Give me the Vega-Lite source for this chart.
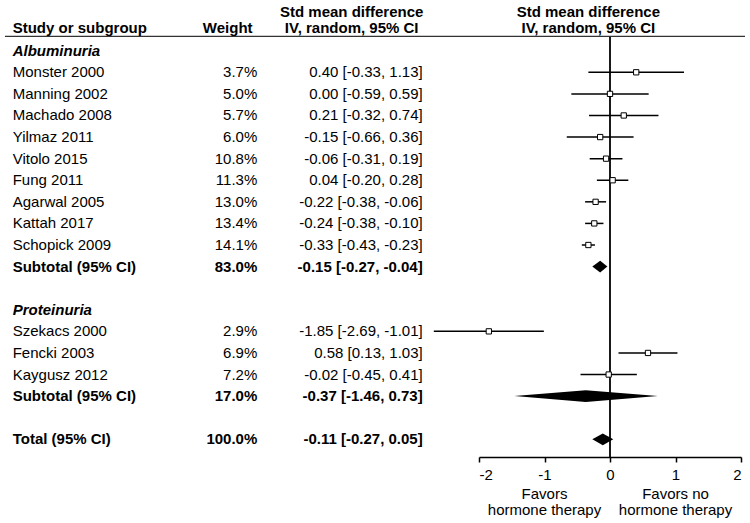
{
  "$schema": "https://vega.github.io/schema/vega-lite/v6.json",
  "autosize": {"type": "none"},
  "width": 262,
  "height": 420,
  "padding": {"left": 479, "right": 9, "top": 37, "bottom": 66},
  "config": {
    "font": "Liberation Sans",
    "view": {"stroke": null},
    "text": {"fontSize": 15, "color": "black", "baseline": "middle"}
  },
  "data": {
    "values": [
      {"row": 0, "type": "group", "study": "Albuminuria"},
      {"row": 1, "type": "study", "study": "Monster 2000", "weight": "3.7%", "ci": "0.40 [-0.33, 1.13]", "est": 0.40, "lo": -0.33, "hi": 1.13},
      {"row": 2, "type": "study", "study": "Manning 2002", "weight": "5.0%", "ci": "0.00 [-0.59, 0.59]", "est": 0.00, "lo": -0.59, "hi": 0.59},
      {"row": 3, "type": "study", "study": "Machado 2008", "weight": "5.7%", "ci": "0.21 [-0.32, 0.74]", "est": 0.21, "lo": -0.32, "hi": 0.74},
      {"row": 4, "type": "study", "study": "Yilmaz 2011", "weight": "6.0%", "ci": "-0.15 [-0.66, 0.36]", "est": -0.15, "lo": -0.66, "hi": 0.36},
      {"row": 5, "type": "study", "study": "Vitolo 2015", "weight": "10.8%", "ci": "-0.06 [-0.31, 0.19]", "est": -0.06, "lo": -0.31, "hi": 0.19},
      {"row": 6, "type": "study", "study": "Fung 2011", "weight": "11.3%", "ci": "0.04 [-0.20, 0.28]", "est": 0.04, "lo": -0.20, "hi": 0.28},
      {"row": 7, "type": "study", "study": "Agarwal 2005", "weight": "13.0%", "ci": "-0.22 [-0.38, -0.06]", "est": -0.22, "lo": -0.38, "hi": -0.06},
      {"row": 8, "type": "study", "study": "Kattah 2017", "weight": "13.4%", "ci": "-0.24 [-0.38, -0.10]", "est": -0.24, "lo": -0.38, "hi": -0.10},
      {"row": 9, "type": "study", "study": "Schopick 2009", "weight": "14.1%", "ci": "-0.33 [-0.43, -0.23]", "est": -0.33, "lo": -0.43, "hi": -0.23},
      {"row": 10, "type": "subtotal", "study": "Subtotal (95% CI)", "weight": "83.0%", "ci": "-0.15 [-0.27, -0.04]", "est": -0.15, "lo": -0.27, "hi": -0.04},
      {"row": 12, "type": "group", "study": "Proteinuria"},
      {"row": 13, "type": "study", "study": "Szekacs 2000", "weight": "2.9%", "ci": "-1.85 [-2.69, -1.01]", "est": -1.85, "lo": -2.69, "hi": -1.01},
      {"row": 14, "type": "study", "study": "Fencki 2003", "weight": "6.9%", "ci": "0.58 [0.13, 1.03]", "est": 0.58, "lo": 0.13, "hi": 1.03},
      {"row": 15, "type": "study", "study": "Kaygusz 2012", "weight": "7.2%", "ci": "-0.02 [-0.45, 0.41]", "est": -0.02, "lo": -0.45, "hi": 0.41},
      {"row": 16, "type": "subtotal", "study": "Subtotal (95% CI)", "weight": "17.0%", "ci": "-0.37 [-1.46, 0.73]", "est": -0.37, "lo": -1.46, "hi": 0.73},
      {"row": 18, "type": "subtotal", "study": "Total (95% CI)", "weight": "100.0%", "ci": "-0.11 [-0.27, 0.05]", "est": -0.11, "lo": -0.27, "hi": 0.05}
    ]
  },
  "layer": [
    {
      "transform": [{"filter": "datum.type == 'study'"}],
      "mark": {"type": "rule", "color": "black", "strokeWidth": 1.5},
      "encoding": {
        "x": {"field": "lo", "type": "quantitative", "scale": {"domain": [-2, 2], "nice": false, "zero": false},
          "axis": {"values": [-2, -1, 0, 1, 2], "labelExpr": "'' + datum.value", "title": null, "grid": false, "domainColor": "black", "domainWidth": 1.5, "tickColor": "black", "tickWidth": 1.5, "tickSize": 5, "labelFontSize": 15, "labelColor": "black", "labelPadding": 5, "labelFont": "Liberation Sans"}},
        "x2": {"field": "hi"},
        "y": {"field": "row", "type": "quantitative", "scale": {"domain": [-0.635, 18.82], "reverse": true, "nice": false, "zero": false}, "axis": null}
      }
    },
    {
      "mark": {"type": "rule", "color": "black", "strokeWidth": 1.8},
      "data": {"values": [{}]},
      "encoding": {
        "x": {"datum": 0, "type": "quantitative"}
      }
    },
    {
      "mark": {"type": "rule", "color": "#333333", "strokeWidth": 1.3},
      "data": {"values": [{}]},
      "encoding": {
        "x": {"datum": -9.237, "type": "quantitative"},
        "x2": {"datum": 2.061},
        "y": {"datum": -0.66, "type": "quantitative"}
      }
    },
    {
      "transform": [{"filter": "datum.type == 'study'"}],
      "mark": {"type": "point", "shape": "square", "filled": true, "fill": "white", "stroke": "black", "strokeWidth": 1, "opacity": 1, "size": 28},
      "encoding": {
        "x": {"field": "est", "type": "quantitative"},
        "y": {"field": "row", "type": "quantitative"}
      }
    },
    {
      "transform": [
        {"filter": "datum.type == 'subtotal'"},
        {"fold": ["lo", "est", "hi"], "as": ["k", "xv"]},
        {"calculate": "datum.k == 'est' ? datum.row - 0.27 : datum.row", "as": "ytop"},
        {"calculate": "datum.k == 'est' ? datum.row + 0.27 : datum.row", "as": "ybot"}
      ],
      "mark": {"type": "area", "orient": "vertical", "color": "black", "opacity": 1},
      "encoding": {
        "x": {"field": "xv", "type": "quantitative"},
        "y": {"field": "ytop", "type": "quantitative"},
        "y2": {"field": "ybot"},
        "detail": {"field": "row", "type": "nominal"}
      }
    },
    {
      "transform": [{"filter": "datum.type == 'study'"}],
      "mark": {"type": "text", "align": "left"},
      "encoding": {"x": {"datum": -9.119, "type": "quantitative"}, "y": {"field": "row", "type": "quantitative"}, "text": {"field": "study"}}
    },
    {
      "transform": [{"filter": "datum.type == 'study'"}],
      "mark": {"type": "text", "align": "right"},
      "encoding": {"x": {"datum": -5.385, "type": "quantitative"}, "y": {"field": "row", "type": "quantitative"}, "text": {"field": "weight"}}
    },
    {
      "transform": [{"filter": "datum.type == 'study'"}],
      "mark": {"type": "text", "align": "right"},
      "encoding": {"x": {"datum": -2.86, "type": "quantitative"}, "y": {"field": "row", "type": "quantitative"}, "text": {"field": "ci"}}
    },
    {
      "transform": [{"filter": "datum.type == 'subtotal'"}],
      "mark": {"type": "text", "align": "left", "fontWeight": "bold"},
      "encoding": {"x": {"datum": -9.119, "type": "quantitative"}, "y": {"field": "row", "type": "quantitative"}, "text": {"field": "study"}}
    },
    {
      "transform": [{"filter": "datum.type == 'subtotal'"}],
      "mark": {"type": "text", "align": "right", "fontWeight": "bold"},
      "encoding": {"x": {"datum": -5.385, "type": "quantitative"}, "y": {"field": "row", "type": "quantitative"}, "text": {"field": "weight"}}
    },
    {
      "transform": [{"filter": "datum.type == 'subtotal'"}],
      "mark": {"type": "text", "align": "right", "fontWeight": "bold"},
      "encoding": {"x": {"datum": -2.86, "type": "quantitative"}, "y": {"field": "row", "type": "quantitative"}, "text": {"field": "ci"}}
    },
    {
      "transform": [{"filter": "datum.type == 'group'"}],
      "mark": {"type": "text", "align": "left", "fontWeight": "bold", "fontStyle": "italic"},
      "encoding": {"x": {"datum": -9.119, "type": "quantitative"}, "y": {"field": "row", "type": "quantitative"}, "text": {"field": "study"}}
    },
    {
      "data": {"values": [{}]},
      "mark": {"type": "text", "align": "left", "fontWeight": "bold"},
      "encoding": {"x": {"datum": -9.119, "type": "quantitative"}, "y": {"datum": -1.05, "type": "quantitative"}, "text": {"value": "Study or subgroup"}}
    },
    {
      "data": {"values": [{}]},
      "mark": {"type": "text", "align": "right", "fontWeight": "bold"},
      "encoding": {"x": {"datum": -5.457, "type": "quantitative"}, "y": {"datum": -1.05, "type": "quantitative"}, "text": {"value": "Weight"}}
    },
    {
      "data": {"values": [{}]},
      "mark": {"type": "text", "align": "center", "fontWeight": "bold"},
      "encoding": {"x": {"datum": -3.944, "type": "quantitative"}, "y": {"datum": -1.77, "type": "quantitative"}, "text": {"value": "Std mean difference"}}
    },
    {
      "data": {"values": [{}]},
      "mark": {"type": "text", "align": "center", "fontWeight": "bold"},
      "encoding": {"x": {"datum": -3.944, "type": "quantitative"}, "y": {"datum": -1.05, "type": "quantitative"}, "text": {"value": "IV, random, 95% CI"}}
    },
    {
      "data": {"values": [{}]},
      "mark": {"type": "text", "align": "center", "fontWeight": "bold"},
      "encoding": {"x": {"datum": -0.331, "type": "quantitative"}, "y": {"datum": -1.77, "type": "quantitative"}, "text": {"value": "Std mean difference"}}
    },
    {
      "data": {"values": [{}]},
      "mark": {"type": "text", "align": "center", "fontWeight": "bold"},
      "encoding": {"x": {"datum": -0.331, "type": "quantitative"}, "y": {"datum": -1.05, "type": "quantitative"}, "text": {"value": "IV, random, 95% CI"}}
    },
    {
      "data": {"values": [{}]},
      "mark": {"type": "text", "align": "center"},
      "encoding": {"x": {"datum": -1, "type": "quantitative"}, "y": {"datum": 20.55, "type": "quantitative"}, "text": {"value": "Favors"}}
    },
    {
      "data": {"values": [{}]},
      "mark": {"type": "text", "align": "center"},
      "encoding": {"x": {"datum": -1, "type": "quantitative"}, "y": {"datum": 21.27, "type": "quantitative"}, "text": {"value": "hormone therapy"}}
    },
    {
      "data": {"values": [{}]},
      "mark": {"type": "text", "align": "center"},
      "encoding": {"x": {"datum": 1, "type": "quantitative"}, "y": {"datum": 20.55, "type": "quantitative"}, "text": {"value": "Favors no"}}
    },
    {
      "data": {"values": [{}]},
      "mark": {"type": "text", "align": "center"},
      "encoding": {"x": {"datum": 1, "type": "quantitative"}, "y": {"datum": 21.27, "type": "quantitative"}, "text": {"value": "hormone therapy"}}
    }
  ]
}
